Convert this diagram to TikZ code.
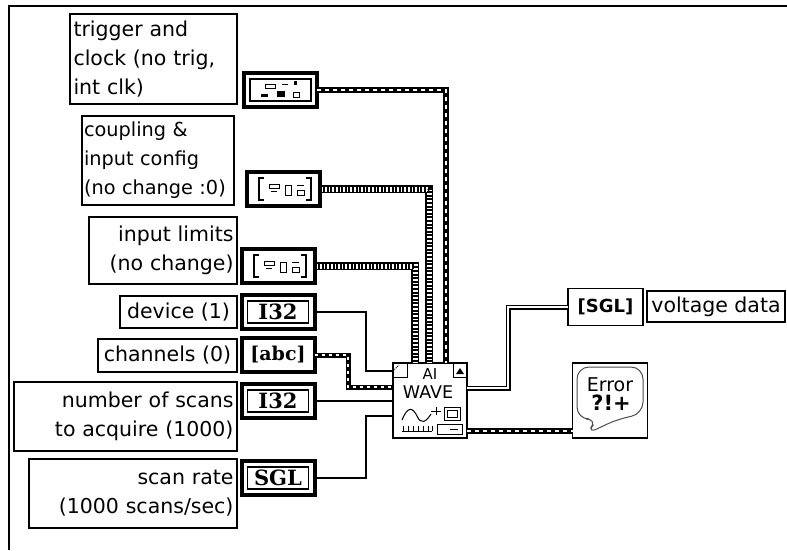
\documentclass[tikz,border=0pt]{standalone}
\usepackage{fontspec}
\setmainfont{DejaVu Sans}
\newfontfamily\termfont{DejaVu Serif}
\usetikzlibrary{positioning,calc}

\begin{document}
\begin{tikzpicture}[x=1pt,y=-1pt,
   lab/.style={draw,line width=1.4pt,outer sep=0pt,inner xsep=3pt,inner ysep=0pt,anchor=north west,
     font=\fontsize{20.5}{29}\selectfont},
   term/.style={draw,line width=4pt,outer sep=0pt,inner sep=0pt,minimum width=73pt,minimum height=34pt},
   termin/.style={term,font=\termfont\bfseries\fontsize{21}{22}\selectfont},
   plain/.style={draw,line width=1.5pt,outer sep=0pt,inner sep=0pt},
   thinwire/.style={line width=1.4pt},
   dblwire/.style={line width=1.3pt,double,double distance=2.4pt},
   enumtag/.pic={
     \draw[line width=1.4pt] (-19,-11) -- (-24,-11) -- (-24,11) -- (-19,11);
     \draw[line width=1.4pt] (23,-11) -- (28,-11) -- (28,11) -- (23,11);
     \draw[line width=1pt] (-14,-5) rectangle (-4,-1);
     \draw[line width=1pt] (-12,2) -- (-6,2);
     \draw[line width=1pt] (2,-4) rectangle (8,6);
     \draw[line width=1pt] (14,-4) -- (21,-4);
     \draw[line width=1pt] (14,1) rectangle (21,6);
   }]
  \useasboundingbox (0,0) rectangle (787,550);
  \draw[line width=2.4pt] (9,550) -- (9,6) -- (787,6);

  % front panel labels
  \node[lab,minimum width=167pt,minimum height=90pt,text width=160pt,align=left] (ltrig) at (70,14)
    {trigger and\\clock (no trig,\\int clk)};
  \node[lab,minimum width=152pt,minimum height=89pt,text width=148pt,inner xsep=2pt,align=left,font=\fontsize{19.3}{29}\selectfont] (lcoup) at (82,116)
    {coupling \&\\input config\\(no change :0)};
  \node[lab,minimum width=148pt,minimum height=67pt,text width=141pt,align=right] (llim) at (89,217)
    {input limits\\(no change)};
  \node[lab,minimum width=117pt,minimum height=32pt] (ldev) at (120,296) {device (1)};
  \node[lab,minimum width=139pt,minimum height=33pt] (lchan) at (98,339) {channels (0)};
  \node[lab,minimum width=223pt,minimum height=69pt,text width=216pt,align=right] (lnum) at (14,382)
    {number of scans\\to acquire (1000)};
  \node[lab,minimum width=208pt,minimum height=69pt,text width=201pt,align=right] (lrate) at (29,459)
    {scan rate\\(1000 scans/sec)};
  \node[lab,minimum width=138pt,minimum height=31pt,font=\fontsize{20.5}{22}\selectfont] (lvolt) at (647,291) {voltage data};

  % terminals
  \node[term] (trig) at (280.5,90) {};
  \node[term] (coup) at (283,189) {};
  \node[term] (lim) at (278,266) {};
  \node[termin] (dev) at (278,312) {I32};
  \node[term,font=\termfont\bfseries\fontsize{19}{20}\selectfont] (chan) at (278,355) {[abc]};
  \node[termin] (num) at (278,401) {I32};
  \node[termin] (rate) at (278,478) {SGL};
  \node[plain,minimum width=75pt,minimum height=37pt,font=\bfseries\fontsize{18}{20}\selectfont] (volt) at (605.5,307) {[SGL]};

  \foreach \nn in {trig,dev,num,rate}
    \draw[line width=1.1pt] ([xshift=6pt,yshift=6pt]\nn.south west) rectangle ([xshift=-6pt,yshift=-6pt]\nn.north east);
  \pic at (coup) {enumtag};
  \pic at (lim) {enumtag};
  % cluster glyph
  \draw[line width=1pt] (265,84) rectangle (275,88);
  \draw[line width=1pt] (282,84) -- (288,84);
  \fill (294,81) rectangle (297,85);
  \fill (261,94) rectangle (268,97);
  \fill (277,91) rectangle (285,97);
  \draw[line width=1pt] (293,92) rectangle (299,97);

  % the VI
  \node[plain,minimum width=74pt,minimum height=75pt] (vi) at (430,400.5) {};
  \node[font=\fontsize{15}{16}\selectfont,inner sep=0pt] (viname) at (430,374) {AI};
  \node[font=\fontsize{17.5}{18}\selectfont,inner sep=0pt] (viwave) at (428,392) {WAVE};
  \draw[line width=1pt] (393,377) -- (407,377) -- (407,363);
  \draw[line width=1pt] (453,363) -- (453,377) -- (467,377);
  \fill (456,374) -- (460,368) -- (464,374) -- cycle;
  \draw[line width=1pt,densely dotted] (393,371) -- (399,365);
  \draw[line width=1pt] (402,420) .. controls (408,405) and (413,408) .. (417,416) .. controls (421,425) and (426,422) .. (431,414);
  \draw[line width=1pt] (431,411) -- (441,411) (436,407) -- (436,415);
  \draw[line width=1pt] (402,431) -- (432,431);
  \foreach \tx in {403,408,413,418,423,428,432} \draw[line width=1pt] (\tx,431) -- (\tx,426);
  \draw[line width=1pt] (444,407) rectangle (460,420);
  \draw[line width=1pt] (447,410) rectangle (457,417);
  \draw[line width=1pt] (437,424) rectangle (462,434);
  \draw[line width=1pt] (450,429) -- (458,429);

  % error sink
  \node[plain,minimum width=75pt,minimum height=75pt] (err) at (610,400.5) {};
  \draw[line width=1pt,black!70,rounded corners=12pt] (598,419) -- (586,434) -- (618,419) -- (643,414) -- (643,367) -- (577,367) -- (577,419) -- cycle;
  \node[font=\fontsize{19}{20}\selectfont,inner sep=0pt] (errtxt) at (610,385) {Error};
  \node[font=\bfseries\fontsize{21}{22}\selectfont,inner sep=0pt] (errsym) at (611,403) {?!+};

  % pins and bends
  \coordinate (pin1) at (446,363);
  \coordinate (pin2) at (429,363);
  \coordinate (pin3) at (415,363);
  \coordinate (bend1) at (366,340);
  \coordinate (pin4) at (393,371);
  \coordinate (bend2) at (348,370);
  \coordinate (pin5) at (393,387);
  \coordinate (bend3) at (366,450);
  \coordinate (pin6) at (393,416);
  \coordinate (pin7) at (467,388);
  \coordinate (bend4) at (508,350);
  \coordinate (pin8) at (467,431);

  % wires
  \foreach \src/\dst in {coup/pin2,lim/pin3}{
    \draw[line width=7.5pt] (\src.east) -| (\dst);
    \draw[line width=5pt,white] (\src.east) -| (\dst);
    \draw[line width=5pt,black,dash pattern=on 2pt off 1.6pt] (\src.east) -| (\dst);
  }
  \draw[line width=6pt] (trig.east) -| (pin1);
  \draw[line width=2.4pt,white,dash pattern=on 4pt off 4pt] (trig.east) -| (pin1);
  \draw[line width=6pt] (pin8) -- (pin8 -| err.west);
  \draw[line width=2.4pt,white,dash pattern=on 4pt off 4pt] (pin8) -- (pin8 -| err.west);
  \draw[line width=5pt] (chan.east) -| (bend2) |- (pin5);
  \draw[line width=2.6pt,white,dash pattern=on 3.6pt off 3.4pt] (chan.east) -| (bend2) |- (pin5);
  \draw[thinwire] (dev.east) -| (bend1) |- (pin4);
  \draw[thinwire] (num.east) -- (num.east -| vi.west);
  \draw[thinwire] (rate.east) -| (bend3) |- (pin6);
  \draw[dblwire] (pin7) -| (bend4) |- (volt.west);
\end{tikzpicture}
\end{document}
